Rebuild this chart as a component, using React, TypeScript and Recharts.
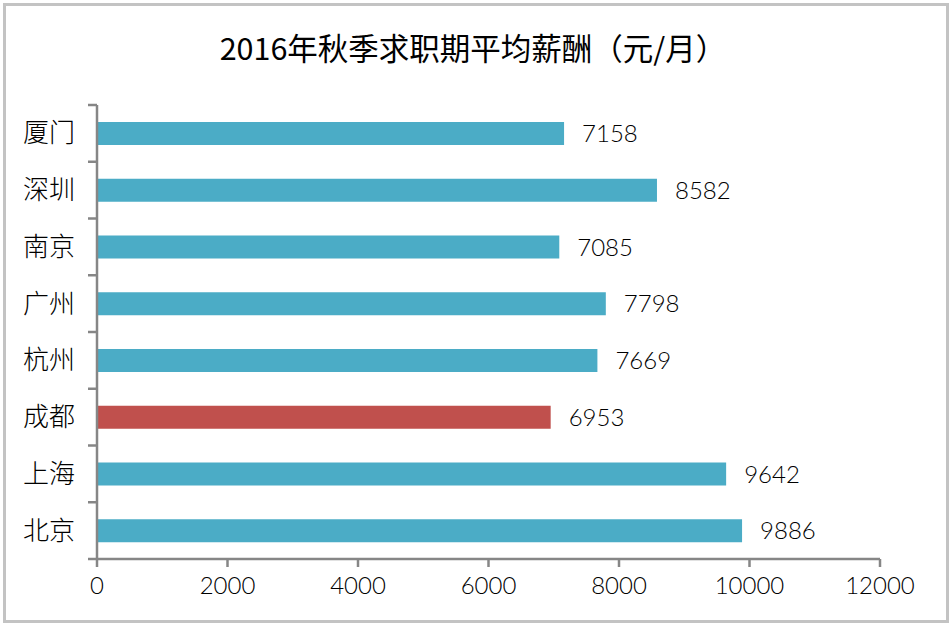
import React from 'react';
import { BarChart, Bar, XAxis, YAxis, Cell, LabelList } from 'recharts';

const cities = ['厦门', '深圳', '南京', '广州', '杭州', '成都', '上海', '北京'];
const salaries = [7158, 8582, 7085, 7798, 7669, 6953, 9642, 9886];
const xTicks = [0, 2000, 4000, 6000, 8000, 10000, 12000];
const highlightCity = '成都';

const data = cities.map((c, i) => ({ city: c, value: salaries[i] }));

const W = 952;
const H = 626;
const TOP = 105;
const BOTTOM_AXIS = 67;
const bandH = (H - TOP - BOTTOM_AXIS) / cities.length;
const numFont = "Lato, 'Noto Sans CJK SC', sans-serif";
const cjkFont = "'Noto Sans CJK SC', sans-serif";

const CityTick = ({ x, y, payload, index }: any) => {
    return (
        <g>
            <line x1={x + 22 - 9} x2={x + 22} y1={y - bandH / 2} y2={y - bandH / 2} stroke="#868686" strokeWidth={2.5} />
            {index === cities.length - 1 && (
                <line x1={x + 22 - 9} x2={x + 22} y1={y + bandH / 2} y2={y + bandH / 2} stroke="#868686" strokeWidth={2.5} />
            )}
            <text x={x} y={y} dy={9} textAnchor="end" fontSize={26} fontWeight={300} fill="#000" fontFamily={cjkFont}>
                {payload.value}
            </text>
        </g>
    );
};

export default function App() {
    return (
        <div style={{ position: 'absolute', left: 0, top: 0, width: W, height: H, background: '#fff' }}>
            <div style={{ position: 'absolute', left: 3, top: 3, width: W - 12, height: H - 12, border: '3px solid #c3c3c3' }} />
            <div style={{
                position: 'absolute', left: 0, top: 25, width: W - 6, textAlign: 'center',
                fontSize: 30.5, fontWeight: 400, fontFamily: cjkFont, color: '#000'
            }}>
                2016年秋季求职期平均薪酬（元/月）
            </div>
            <div style={{ position: 'absolute', left: 0, top: 0 }}>
                <BarChart
                    width={W}
                    height={H}
                    data={data}
                    layout="vertical"
                    margin={{ top: TOP, right: 72, bottom: 0, left: 0 }}
                    barCategoryGap="30%"
                >
                    <XAxis
                        type="number"
                        domain={[0, 12000]}
                        ticks={xTicks}
                        height={BOTTOM_AXIS}
                        axisLine={{ stroke: '#868686', strokeWidth: 2.5 }}
                        tickLine={{ stroke: '#868686', strokeWidth: 2.5 }}
                        tickSize={8}
                        tickMargin={10}
                        tick={{ fill: '#000', fontSize: 24, fontWeight: 300, fontFamily: numFont }}
                        interval={0}
                    />
                    <YAxis
                        type="category"
                        dataKey="city"
                        width={97}
                        axisLine={{ stroke: '#868686', strokeWidth: 2.5 }}
                        tickLine={false}
                        tickSize={0}
                        tickMargin={22}
                        tick={<CityTick />}
                        interval={0}
                    />
                    <Bar dataKey="value" fill="#4BACC6" isAnimationActive={false}>
                        {data.map((d, i) => (
                            <Cell key={i} fill={d.city === highlightCity ? '#C0504D' : '#4BACC6'} />
                        ))}
                        <LabelList dataKey="value" position="right" offset={18} fill="#000" fontSize={24} fontWeight={300} fontFamily={numFont} />
                    </Bar>
                </BarChart>
            </div>
        </div>
    );
}
